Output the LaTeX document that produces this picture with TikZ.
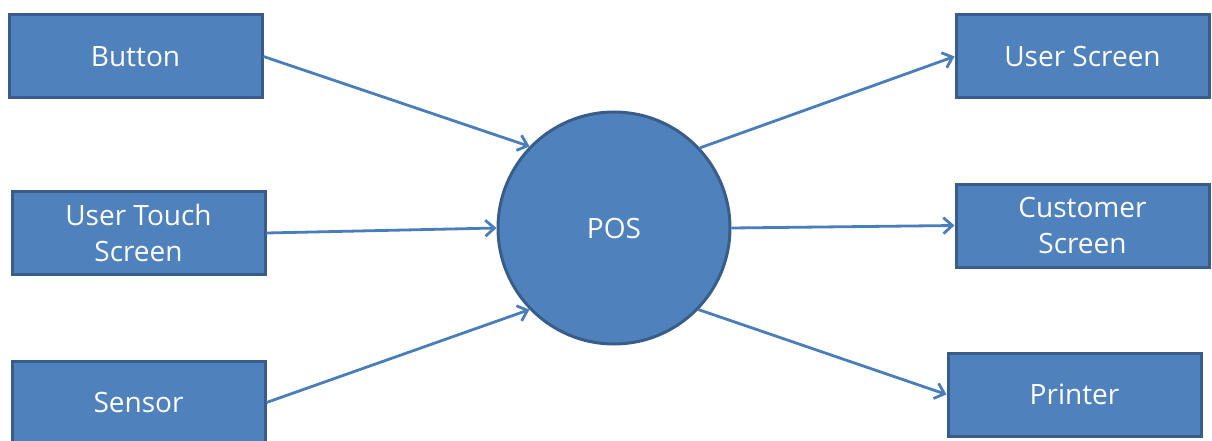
\documentclass[tikz,border=0pt]{standalone}
\usepackage{fontspec}
\setmainfont{Open Sans}
\usetikzlibrary{arrows.meta}
\definecolor{boxfill}{HTML}{4F81BD}
\definecolor{boxline}{HTML}{385D8A}
\definecolor{arrowc}{HTML}{4A7EBB}
\tikzset{
  box/.style={draw=boxline, line width=3pt, fill=boxfill, minimum width=253pt, minimum height=83pt, inner sep=0pt, text=white, align=center, font=\fontsize{28}{36}\selectfont},
  posnode/.style={draw=boxline, line width=3pt, fill=boxfill, circle, minimum size=232pt, inner sep=0pt, text=white, font=\fontsize{28}{36}\selectfont},
  conn/.style={draw=arrowc, line width=2.8pt, -{Straight Barb[length=9pt,width=16pt,line width=2.8pt]}}
}
\begin{document}
\begin{tikzpicture}[x=1pt,y=-1pt]
\useasboundingbox (0,0) rectangle (1212,441);
\node[box] (button) at (135.5,56.5) {\raisebox{-2pt}{Button}};
\node[box] (touch) at (138.5,233) {User Touch\\Screen};
\node[box] (sensor) at (138.5,402.5) {\raisebox{-2pt}{Sensor}};
\node[box] (user) at (1082.5,56.5) {\raisebox{-2pt}{User Screen}};
\node[box] (cust) at (1082.5,225.5) {Customer\\Screen};
\node[box] (printer) at (1074.5,394.5) {Printer};
\node[posnode] (pos) at (614,228) {\raisebox{-2pt}{POS}};
\draw[conn] (button.east) -- (pos.136);
\draw[conn] (touch.east) -- (pos.180);
\draw[conn] (sensor.east) -- (pos.-136);
\draw[conn] (pos.43) -- (user.west);
\draw[conn] (pos.0) -- (cust.west);
\draw[conn] (pos.-44) -- (printer.west);
\end{tikzpicture}
\end{document}
